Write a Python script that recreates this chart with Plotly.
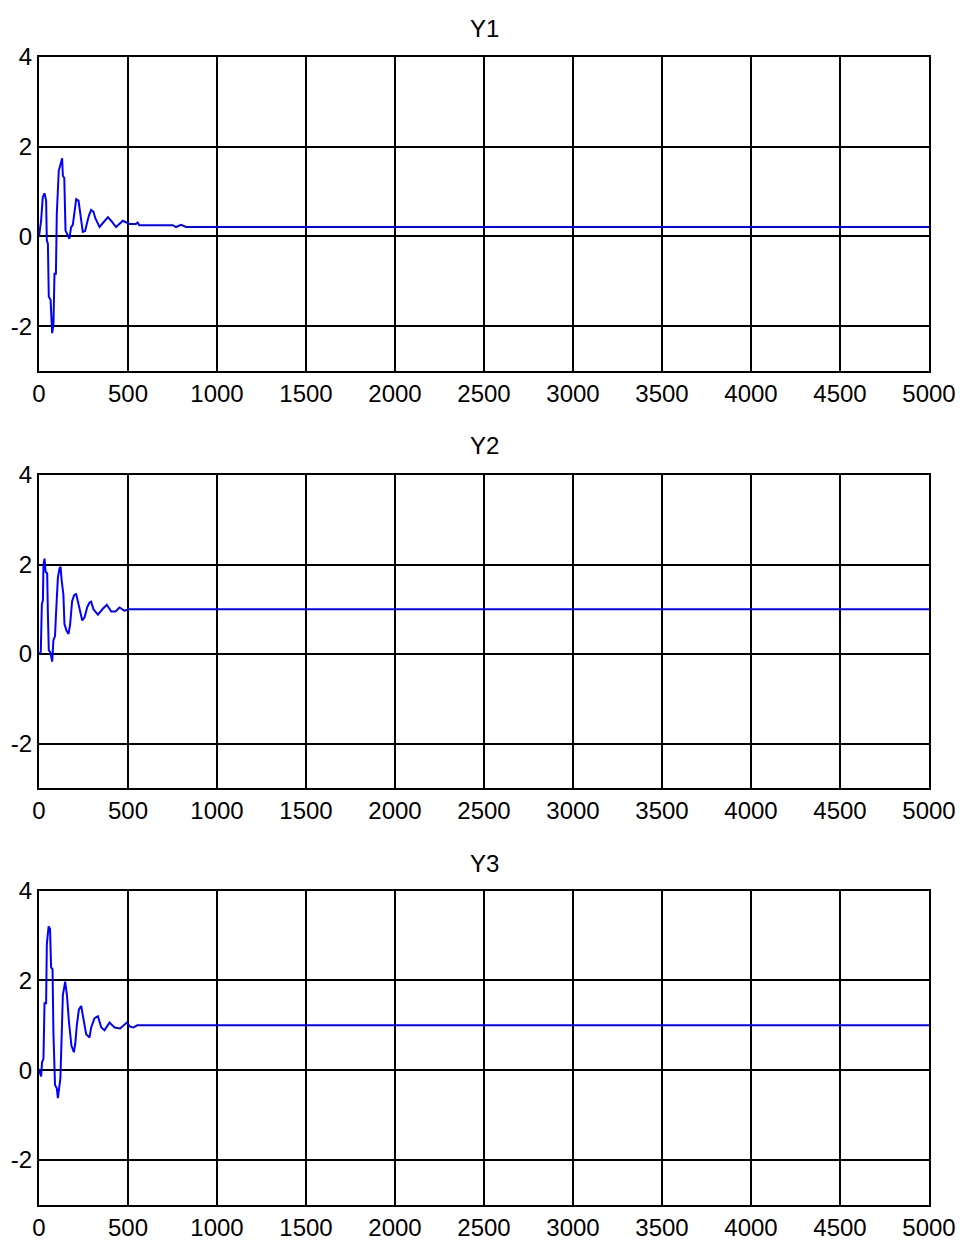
import plotly.graph_objects as go
from plotly.subplots import make_subplots

# Transient responses of the three outputs (time samples and values)
t1 = [0, 12, 21, 31, 40, 44, 50, 55, 65, 74, 81, 87, 95, 100, 111, 122, 130, 134, 142, 149,
      160, 171, 180, 190, 200, 209, 222, 228, 237, 246, 259, 268, 280, 293, 306, 317, 340,
      359, 387, 405, 433, 471, 508, 545, 554, 564, 752, 770, 798, 826, 5000]
y1 = [0, 0.36, 0.87, 0.96, 0.80, -0.09, -0.16, -1.34, -1.41, -2.15, -1.97, -0.83, -0.83, 0.50,
      1.46, 1.60, 1.74, 1.35, 1.30, 0.13, 0.05, -0.05, 0.20, 0.26, 0.56, 0.83, 0.80, 0.60,
      0.35, 0.10, 0.12, 0.30, 0.46, 0.59, 0.55, 0.40, 0.21, 0.30, 0.43, 0.35, 0.21, 0.35,
      0.28, 0.28, 0.31, 0.25, 0.25, 0.21, 0.26, 0.21, 0.21]

t2 = [0, 10, 16, 22, 25, 31, 37, 46, 50, 55, 65, 74, 81, 90, 95, 106, 115, 121, 128, 137,
      143, 155, 166, 175, 186, 198, 209, 218, 232, 243, 256, 271, 284, 293, 306, 331, 356,
      381, 406, 430, 452, 480, 509, 520, 5000]
y2 = [0, 0.05, 1.11, 1.20, 1.99, 2.13, 1.84, 1.80, 0.89, 0.09, 0.02, -0.17, 0.31, 0.40,
      0.85, 1.70, 1.91, 1.95, 1.62, 1.33, 0.67, 0.52, 0.45, 0.67, 1.18, 1.32, 1.34, 1.18,
      0.90, 0.75, 0.82, 1.05, 1.15, 1.17, 1.00, 0.88, 1.00, 1.10, 0.95, 0.95, 1.04, 0.97,
      1.00, 1.00, 1.00]

t3 = [0, 12, 17, 25, 31, 40, 44, 54, 62, 68, 76, 81, 90, 100, 106, 120, 128, 134, 147, 157,
      168, 182, 196, 204, 212, 224, 237, 246, 265, 284, 293, 312, 331, 350, 368, 396, 425,
      456, 493, 512, 531, 551, 5000]
y3 = [0, -0.14, 0.18, 0.25, 1.49, 1.49, 2.80, 3.20, 3.15, 2.29, 2.25, 0.84, -0.33, -0.40,
      -0.62, -0.18, 0.84, 1.67, 1.97, 1.67, 1.09, 0.55, 0.40, 0.60, 0.98, 1.35, 1.43, 1.20,
      0.80, 0.73, 0.95, 1.16, 1.20, 0.95, 0.89, 1.06, 0.95, 0.93, 1.06, 0.97, 0.95, 1.00, 1.00]

titles = ["Y1", "Y2", "Y3"]
x_ticks = [0, 500, 1000, 1500, 2000, 2500, 3000, 3500, 4000, 4500, 5000]
y_ticks = [-2, 0, 2, 4]

series = [(t1, y1), (t2, y2), (t3, y3)]

fig = make_subplots(rows=3, cols=1)

font = dict(family="Liberation Sans, Arial, sans-serif", size=24, color="black")

for i, (t, y) in enumerate(series, start=1):
    fig.add_trace(
        go.Scatter(x=t, y=y, mode="lines", line=dict(color="#0000ff", width=2),
                   showlegend=False),
        row=i, col=1,
    )

# Axes frames (pixel boxes converted to paper fractions)
H = 1240.0
boxes = [(56.7, 371.3), (475.0, 788.3), (890.5, 1205.0)]
title_y = [28, 446, 863]

for i, (top, bot) in enumerate(boxes, start=1):
    xa = "xaxis" if i == 1 else f"xaxis{i}"
    ya = "yaxis" if i == 1 else f"yaxis{i}"
    fig.layout[ya].domain = [1 - bot / H, 1 - top / H]
    fig.layout[xa].domain = [0, 1]
    fig.update_xaxes(
        range=[0, 5000], tickvals=x_ticks, ticktext=[str(v) for v in x_ticks],
        showline=True, linecolor="black", linewidth=2, mirror=True,
        showgrid=True, gridcolor="black", gridwidth=1.6, zeroline=False,
        ticks="", tickfont=font, automargin=False, row=i, col=1,
    )
    fig.update_yaxes(
        range=[-3, 4], tickvals=y_ticks, ticktext=[str(v) for v in y_ticks],
        showline=True, linecolor="black", linewidth=2, mirror=True,
        showgrid=True, gridcolor="black", gridwidth=1.6, zeroline=False,
        ticks="", tickfont=font, automargin=False, row=i, col=1,
    )
    fig.add_annotation(
        text=titles[i - 1], xref="paper", yref="paper", x=0.5,
        y=1 - title_y[i - 1] / H, showarrow=False, font=font,
        xanchor="center", yanchor="middle",
    )

fig.update_layout(
    width=962, height=1240,
    margin=dict(l=39, r=33, t=0, b=0, autoexpand=False),
    paper_bgcolor="white", plot_bgcolor="white",
)

fig.write_html("out.html")
